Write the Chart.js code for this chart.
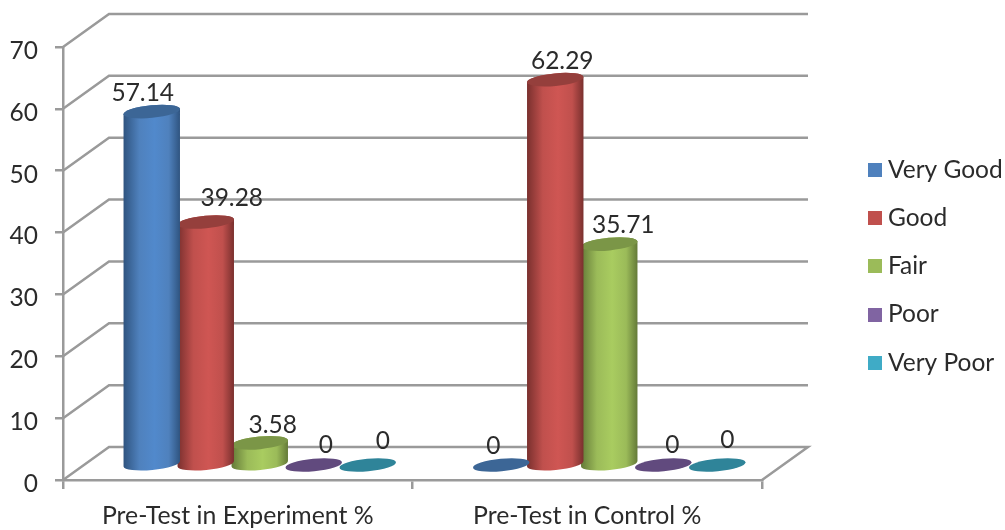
<!DOCTYPE html>
<html>
<head>
<meta charset="utf-8">
<style>html,body{margin:0;padding:0;background:#fff}#wrap{width:1005px;height:530px}</style>
<script src="https://cdn.jsdelivr.net/npm/chart.js@4/dist/chart.umd.js"></script>
</head>
<body>
<div id="wrap"><canvas id="c" width="1005" height="530"></canvas></div>
<script>
const categories = ["Pre-Test in Experiment %", "Pre-Test in Control %"];
const seriesNames = ["Very Good", "Good", "Fair", "Poor", "Very Poor"];
const veryGood = [57.14, 0];
const good = [39.28, 62.29];
const fair = [3.58, 35.71];
const poor = [0, 0];
const veryPoor = [0, 0];
const seriesColors = ["#4F81BD", "#C0504D", "#9BBB59", "#8064A2", "#3FABC6"];
const sideDark = ["#2F5480", "#7A302E", "#647A38", "#544269", "#2A7186"];
const sideLight = ["#5189CC", "#CF5653", "#A9CC60", "#8A6CAF", "#4BB8D4"];
const capColors = ["#3C6696", "#953F3C", "#7B9647", "#614A7E", "#2F8499"];
const labelDx = [[-9, -8], [26, 7], [13, 14], [12, 9], [15, 10]];
const labelDy = [[-18.5, -19], [-24, -19], [-18, -19], [-20, -20], [-24, -25]];

const DEPTH_X = 46, DEPTH_Y = -33;
const OFF_X = 22, OFF_Y = -15;
const FONT = "Lato";
const GRID = "#9A9A9A";
const TEXT = "#2B2B2B";

function swatch(color) {
  const s = document.createElement("canvas");
  s.width = 14; s.height = 14;
  const g = s.getContext("2d");
  g.fillStyle = color;
  g.fillRect(0, 0, 14, 14);
  return s;
}

Chart.BarElement.prototype.draw = function (ctx) {
  const i = seriesColors.indexOf(this.options.backgroundColor);
  const x = this.x + OFF_X, top = this.y + OFF_Y, base = this.base + OFF_Y;
  const r = this.width / 2, ry = 6.3, rot = -5.5 * Math.PI / 180;
  const dx = r * Math.cos(rot), dy = r * Math.sin(rot);
  ctx.save();
  if (base - top > 0.5) {
    const g = ctx.createLinearGradient(x - dx, 0, x + dx, 0);
    g.addColorStop(0, sideDark[i]);
    g.addColorStop(0.28, seriesColors[i]);
    g.addColorStop(0.55, sideLight[i]);
    g.addColorStop(0.8, seriesColors[i]);
    g.addColorStop(1, sideDark[i]);
    ctx.fillStyle = g;
    ctx.beginPath();
    ctx.ellipse(x, base, r, ry, rot, 0, Math.PI);
    ctx.lineTo(x - dx, top - dy);
    ctx.ellipse(x, top, r, ry, rot, Math.PI, 2 * Math.PI);
    ctx.closePath();
    ctx.fill();
  }
  ctx.fillStyle = capColors[i];
  ctx.beginPath();
  ctx.ellipse(x, top, r, ry, rot, 0, 2 * Math.PI);
  ctx.fill();
  ctx.restore();
};

const wallPlugin = {
  id: "wall",
  beforeDatasetsDraw(chart) {
    const { ctx, chartArea: a, scales: { y } } = chart;
    ctx.save();
    ctx.strokeStyle = GRID;
    ctx.lineWidth = 2.5;
    ctx.lineJoin = "miter";
    y.ticks.forEach(t => {
      const p = y.getPixelForValue(t.value);
      ctx.beginPath();
      ctx.moveTo(a.left, p);
      ctx.lineTo(a.left + DEPTH_X, p + DEPTH_Y);
      ctx.lineTo(a.right + DEPTH_X, p + DEPTH_Y);
      if (t.value === 0) ctx.lineTo(a.right, p);
      ctx.stroke();
    });
    ctx.restore();
  }
};

const valuePlugin = {
  id: "values",
  afterDatasetsDraw(chart) {
    const { ctx } = chart;
    ctx.save();
    ctx.fillStyle = TEXT;
    ctx.font = "24.5px " + FONT;
    ctx.textAlign = "center";
    ctx.textBaseline = "middle";
    chart.data.datasets.forEach((d, si) => {
      chart.getDatasetMeta(si).data.forEach((el, ci) => {
        ctx.fillText(String(d.data[ci]),
          el.x + OFF_X + labelDx[si][ci],
          el.y + OFF_Y + labelDy[si][ci]);
      });
    });
    ctx.restore();
  }
};

const legendPlugin = {
  id: "legendPlace",
  afterLayout(chart) {
    const l = chart.legend;
    l.left = 850; l.right = 1005; l.top = 134; l.bottom = 530;
    l.width = 155; l.height = 396;
  }
};

new Chart(document.getElementById("c"), {
  type: "bar",
  data: {
    labels: categories,
    datasets: [veryGood, good, fair, poor, veryPoor].map((vals, i) => ({
      label: seriesNames[i],
      data: vals,
      backgroundColor: seriesColors[i],
      clip: false,
      barPercentage: 1.05,
      categoryPercentage: 0.7725
    }))
  },
  options: {
    responsive: false,
    animation: false,
    layout: { padding: { left: 0, top: 47, right: 243, bottom: 0 } },
    plugins: {
      tooltip: { enabled: false },
      legend: {
        position: "chartArea",
        align: "start",
        labels: {
          usePointStyle: true,
          boxWidth: 2,
          boxHeight: 14,
          padding: 23.7,
          color: TEXT,
          font: { family: FONT, size: 24.5 },
          generateLabels(chart) {
            return Chart.defaults.plugins.legend.labels.generateLabels(chart)
              .map((it, i) => Object.assign(it, { pointStyle: swatch(seriesColors[i]) }));
          }
        }
      }
    },
    scales: {
      x: {
        afterFit(s) { s.height = 50; },
        border: { color: GRID, width: 2.5 },
        grid: { drawOnChartArea: false, color: GRID, tickColor: GRID, tickLength: 9, lineWidth: 2.5 },
        ticks: { color: TEXT, font: { family: FONT, size: 24.8 }, padding: 12, maxRotation: 0 }
      },
      y: {
        min: 0,
        max: 70,
        afterFit(s) { s.width = 63; },
        border: { color: GRID, width: 2.5 },
        grid: { drawOnChartArea: false, color: GRID, tickColor: GRID, tickLength: 8, lineWidth: 2.5 },
        ticks: { stepSize: 10, color: TEXT, font: { family: FONT, size: 24.5 }, padding: 17, labelOffset: 4 }
      }
    }
  },
  plugins: [wallPlugin, valuePlugin, legendPlugin]
});
</script>
</body>
</html>
